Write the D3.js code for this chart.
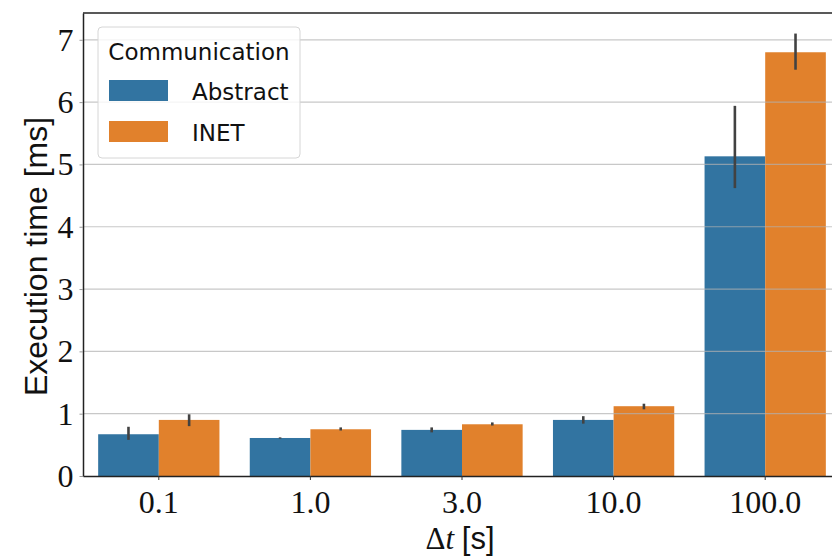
<!DOCTYPE html>
<html>
<head>
<meta charset="utf-8">
<script src="https://cdn.jsdelivr.net/npm/d3@7"></script>
<style>
  body { margin: 0; background: #fff; }
  .tick text { font-family: "Liberation Serif", serif; }
</style>
</head>
<body>
<div id="d3-target"></div>
<script>
const categories = ['0.1', '1.0', '3.0', '10.0', '100.0'];
const series = ['Abstract', 'INET'];
const abstractMean = [0.67, 0.61, 0.74, 0.90, 5.13];
const abstractLo = [0.58, 0.60, 0.70, 0.84, 4.62];
const abstractHi = [0.79, 0.62, 0.78, 0.96, 5.94];
const inetMean = [0.90, 0.75, 0.83, 1.12, 6.80];
const inetLo = [0.80, 0.73, 0.81, 1.07, 6.52];
const inetHi = [0.99, 0.78, 0.86, 1.16, 7.10];
const yTicks = [0, 1, 2, 3, 4, 5, 6, 7];
const colors = ['#3274a1', '#e1812c'];

const rows = [];
categories.forEach((c, i) => {
  rows.push({cat: c, s: 'Abstract', v: abstractMean[i], lo: abstractLo[i], hi: abstractHi[i]});
  rows.push({cat: c, s: 'INET', v: inetMean[i], lo: inetLo[i], hi: inetHi[i]});
});

const margin = {top: 13, right: 0, bottom: 80, left: 83},
  width = 758,
  height = 476 - margin.top;

const svg = d3.select('#d3-target')
  .append('svg')
  .attr('width', 832)
  .attr('height', 556)
  .style('display', 'block');

const g = svg.append('g')
  .attr('transform', `translate(${margin.left},${margin.top})`);

const x = d3.scaleBand()
  .domain(categories)
  .range([0, width])
  .paddingInner(0.2)
  .paddingOuter(0.1);

const xs = d3.scaleBand()
  .domain(series)
  .range([0, x.bandwidth()]);

const y = d3.scaleLinear()
  .domain([0, 7.43])
  .range([height, 0]);

const color = d3.scaleOrdinal().domain(series).range(colors);

// bars
g.selectAll('.bar')
  .data(rows)
  .enter().append('rect')
    .attr('class', 'bar')
    .attr('x', d => x(d.cat) + xs(d.s))
    .attr('width', xs.bandwidth())
    .attr('y', d => y(d.v))
    .attr('height', d => y(0) - y(d.v))
    .attr('fill', d => color(d.s));

// grid (drawn over bars)
g.append('g')
  .selectAll('line')
  .data(yTicks.slice(1))
  .enter().append('line')
    .attr('x1', 0)
    .attr('x2', width)
    .attr('y1', d => y(d))
    .attr('y2', d => y(d))
    .attr('stroke', '#b0b0b0')
    .attr('stroke-opacity', 0.7)
    .attr('stroke-width', 1.2);

// error bars
g.selectAll('.err')
  .data(rows)
  .enter().append('line')
    .attr('class', 'err')
    .attr('x1', d => x(d.cat) + xs(d.s) + xs.bandwidth() / 2)
    .attr('x2', d => x(d.cat) + xs(d.s) + xs.bandwidth() / 2)
    .attr('y1', d => y(d.lo))
    .attr('y2', d => y(d.hi))
    .attr('stroke', '#424242')
    .attr('stroke-width', 2.6);

// axes
const xAxis = d3.axisBottom(x).tickSizeInner(4).tickSizeOuter(0).tickPadding(6);
const yAxis = d3.axisLeft(y).tickValues(yTicks).tickSizeInner(3.5).tickSizeOuter(0).tickPadding(6);

const gx = g.append('g')
  .attr('transform', `translate(0,${height})`)
  .call(xAxis);
gx.select('.domain').attr('stroke', '#222').attr('stroke-width', 1.5);
gx.selectAll('.tick line').attr('stroke', '#333').attr('stroke-width', 1);
gx.selectAll('.tick text').attr('font-size', 32).attr('fill', '#111').attr('dy', '0.85em');

const gy = g.append('g').call(yAxis);
gy.select('.domain').attr('stroke', '#222').attr('stroke-width', 1.5);
gy.selectAll('.tick line').attr('stroke', '#999').attr('stroke-width', 1);
gy.selectAll('.tick text').attr('font-size', 32).attr('fill', '#111').attr('dy', '0.33em');

// top spine
g.append('line')
  .attr('x1', 0).attr('x2', width)
  .attr('y1', 0).attr('y2', 0)
  .attr('stroke', '#222').attr('stroke-width', 1.5);

// axis labels
svg.append('text')
  .attr('transform', `translate(47,${margin.top + height / 2 + 12}) rotate(-90)`)
  .attr('text-anchor', 'middle')
  .attr('font-family', 'Liberation Sans, sans-serif')
  .attr('font-size', 32)
  .attr('fill', '#111')
  .text('Execution time [ms]');

const xl = svg.append('text')
  .attr('x', 460)
  .attr('y', 549)
  .attr('text-anchor', 'middle')
  .attr('font-size', 31)
  .attr('fill', '#111');
xl.append('tspan').attr('font-family', 'Liberation Serif, serif').text('Δ');
xl.append('tspan').attr('font-family', 'Liberation Serif, serif').attr('font-style', 'italic').text('t ');
xl.append('tspan').attr('font-family', 'Liberation Sans, sans-serif').attr('font-size', 31).text('[s]');

// legend
const legend = svg.append('g').attr('transform', 'translate(98,27)');
legend.append('rect')
  .attr('width', 202)
  .attr('height', 131)
  .attr('rx', 4)
  .attr('fill', '#fff')
  .attr('fill-opacity', 0.8)
  .attr('stroke', '#d6d6d6')
  .attr('stroke-width', 1);
legend.append('text')
  .attr('x', 101)
  .attr('y', 33)
  .attr('text-anchor', 'middle')
  .attr('font-family', 'DejaVu Sans, sans-serif')
  .attr('font-size', 23)
  .attr('fill', '#111')
  .text('Communication');
const items = legend.selectAll('.item')
  .data(series)
  .enter().append('g')
    .attr('class', 'item')
    .attr('transform', (d, i) => `translate(11,${53 + i * 41})`);
items.append('rect')
  .attr('width', 59)
  .attr('height', 21)
  .attr('fill', d => color(d));
items.append('text')
  .attr('x', 83)
  .attr('y', 20)
  .attr('font-family', 'DejaVu Sans, sans-serif')
  .attr('font-size', 23)
  .attr('fill', '#111')
  .text(d => d);
</script>
</body>
</html>
